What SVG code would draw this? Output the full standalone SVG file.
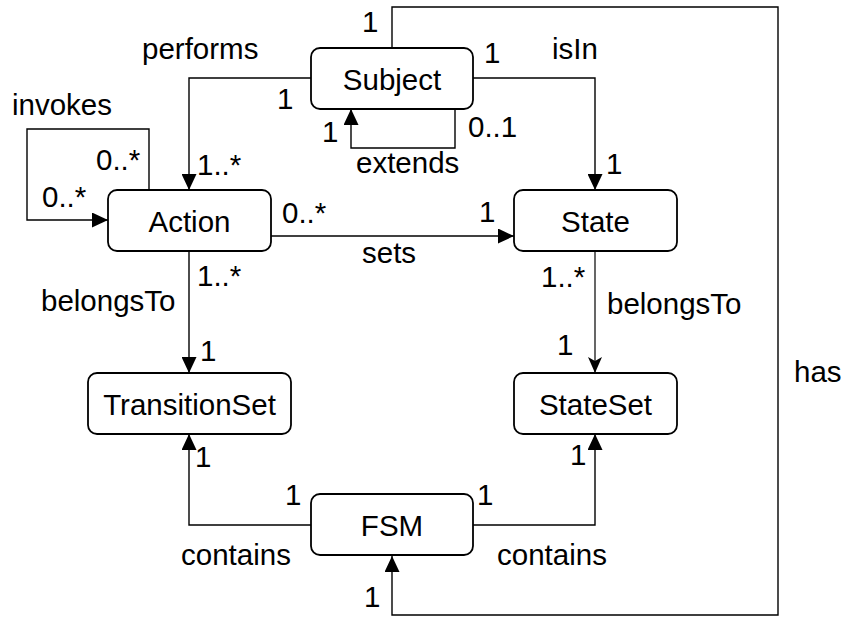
<svg xmlns="http://www.w3.org/2000/svg" width="845" height="617" viewBox="0 0 845 617">
<style>
.node rect{fill:#fff;stroke:#000;stroke-width:1.8}
.node text{font-family:"Liberation Sans",Arial,Helvetica,sans-serif;font-size:29.5px;fill:#000;text-anchor:middle}
.edge{fill:none;stroke:#000;stroke-width:1.4}
.lbl{font-family:"Liberation Sans",Arial,Helvetica,sans-serif;font-size:29.5px;fill:#000}
</style>
<defs>
<marker id="block" markerUnits="userSpaceOnUse" markerWidth="16" markerHeight="15" refX="16" refY="7.5" orient="auto" viewBox="0 0 16 15">
<path d="M0,0 L16,7.5 L0,15 Z" fill="#000"/>
</marker>
<marker id="classic" markerUnits="userSpaceOnUse" markerWidth="16" markerHeight="14" refX="16" refY="7" orient="auto" viewBox="0 0 16 14">
<path d="M0,0 L16,7 L0,14 L4,7 Z" fill="#000"/>
</marker>
</defs>
<rect width="845" height="617" fill="#fff"/>
<g id="connectors">
<path class="edge" d="M311,78 H189 V190" marker-end="url(#block)"/>
<path class="edge" d="M473,78 H595 V190" marker-end="url(#block)"/>
<path class="edge" d="M149,190 V129 H27 V220 H108" marker-end="url(#block)"/>
<path class="edge" d="M271,236 H514" marker-end="url(#block)"/>
<path class="edge" d="M455,109 V148 H351 V109" marker-end="url(#block)"/>
<path class="edge" d="M392,48 V7 H778 V615 H392 V556" marker-end="url(#block)"/>
<path class="edge" d="M189,251 V373" marker-end="url(#block)"/>
<path class="edge" style="stroke-width:1.2" d="M595,251 V373" marker-end="url(#classic)"/>
<path class="edge" d="M311,525 H189 V434" marker-end="url(#block)"/>
<path class="edge" d="M473,525 H595 V434" marker-end="url(#block)"/>
</g>
<g id="labels" class="lbl">
<text x="142" y="59">performs</text>
<text x="277" y="109">1</text>
<text x="197" y="175">1..*</text>
<text x="12" y="115">invokes</text>
<text x="96" y="170">0..*</text>
<text x="42" y="207">0..*</text>
<text x="282" y="223">0..*</text>
<text x="362" y="263">sets</text>
<text x="479" y="222">1</text>
<text x="552" y="59">isIn</text>
<text x="484" y="63">1</text>
<text x="606" y="174">1</text>
<text x="322" y="142">1</text>
<text x="468" y="137">0..1</text>
<text x="356" y="173">extends</text>
<text x="362" y="32">1</text>
<text x="41" y="311">belongsTo</text>
<text x="197" y="286">1..*</text>
<text x="200" y="361">1</text>
<text x="607" y="314">belongsTo</text>
<text x="541" y="287">1..*</text>
<text x="557" y="355">1</text>
<text x="794" y="382">has</text>
<text x="195" y="467">1</text>
<text x="285" y="505">1</text>
<text x="181" y="565">contains</text>
<text x="477" y="505">1</text>
<text x="570" y="465">1</text>
<text x="497" y="565">contains</text>
<text x="364" y="607">1</text>
</g>
<g id="node-subject" class="node"><rect x="311" y="48" width="162" height="61" rx="9"/><text x="392" y="89.5">Subject</text></g>
<g id="node-action" class="node"><rect x="108" y="190" width="163" height="61" rx="9"/><text x="189.5" y="231.5">Action</text></g>
<g id="node-state" class="node"><rect x="514" y="190" width="163" height="61" rx="9"/><text x="595.5" y="231.5">State</text></g>
<g id="node-transitionset" class="node"><rect x="88" y="373" width="203" height="61" rx="9"/><text x="189.5" y="414.5">TransitionSet</text></g>
<g id="node-stateset" class="node"><rect x="514" y="373" width="163" height="61" rx="9"/><text x="595.5" y="414.5">StateSet</text></g>
<g id="node-fsm" class="node"><rect x="311" y="494" width="162" height="61" rx="9"/><text x="392" y="535.5">FSM</text></g>
</svg>
